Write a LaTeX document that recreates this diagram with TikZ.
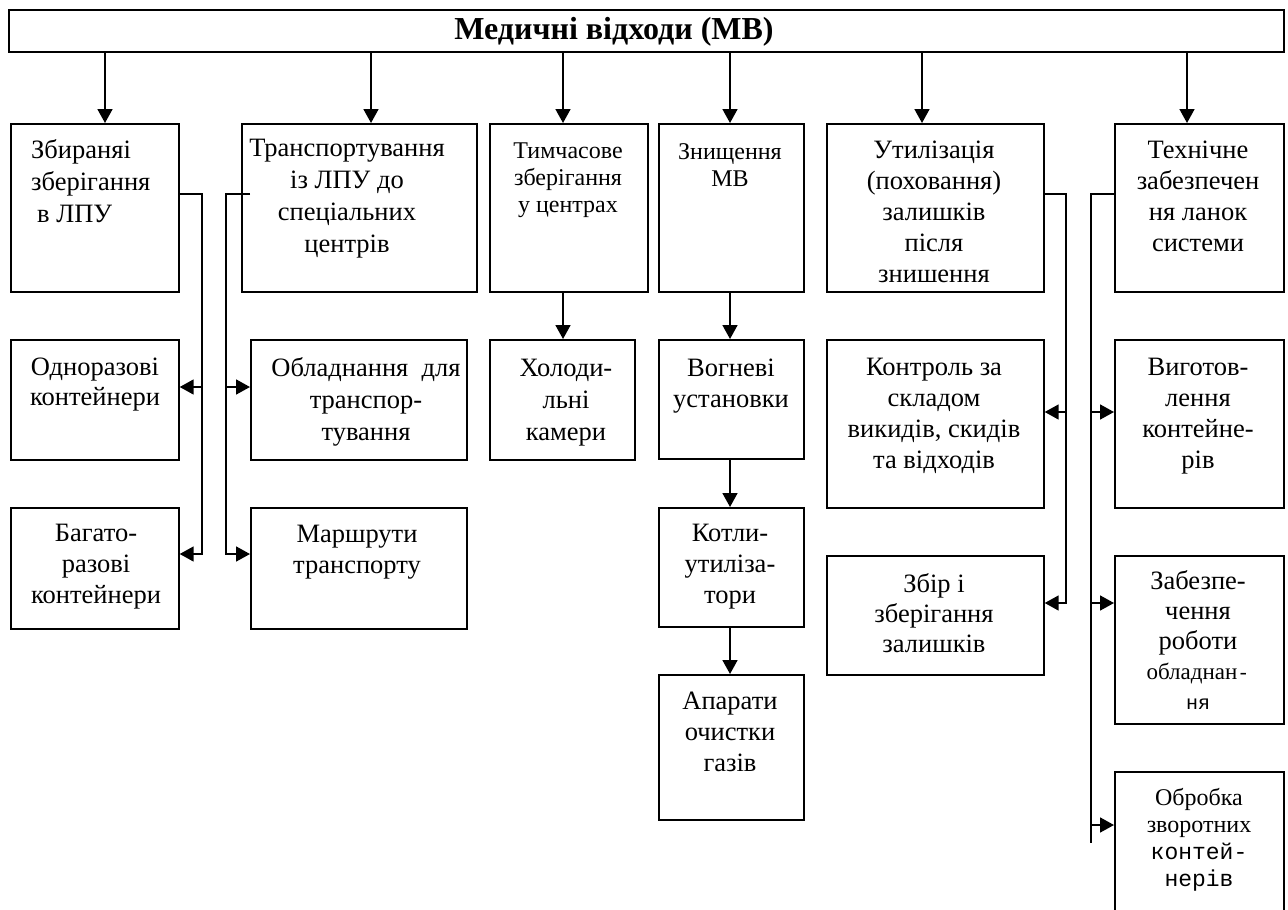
\documentclass[tikz,border=0pt]{standalone}
\usepackage{fontspec}
\setmainfont{Liberation Serif}
\setmonofont{Liberation Mono}
\usetikzlibrary{arrows.meta}
\newcommand\mybox[5]{\node[box, minimum width=#4pt, minimum height=#5pt] (#1) at (#2,#3) {};}
\begin{document}
\begin{tikzpicture}[x=1pt,y=-1pt,
  box/.style={draw, line width=1.7pt, inner sep=0pt, anchor=north west},
  ln/.style={line width=1.7pt, line join=miter},
  arr/.style={line width=1.7pt, line join=miter, -{Triangle[length=14pt,width=15pt]}},
  tx/.style={inner sep=0pt, align=center, anchor=north, execute at begin node=\strut},
  f26/.style={font=\fontsize{26.5}{#1}\selectfont},
  f24/.style={font=\fontsize{24}{#1}\selectfont},
]
\useasboundingbox (0,0) rectangle (1288,910);
% boxes
\mybox{title}{8}{9}{1275}{42}
\mybox{A}{10}{123}{168}{168}
\mybox{B}{241}{123}{235}{168}
\mybox{C}{489}{123}{158}{168}
\mybox{D}{658}{123}{145}{168}
\mybox{E}{826}{123}{217}{168}
\mybox{F}{1114}{123}{169}{168}
\mybox{A2}{10}{339}{168}{120}
\mybox{A3}{10}{507}{168}{121}
\mybox{B2}{250}{339}{216}{120}
\mybox{B3}{250}{507}{216}{121}
\mybox{C2}{489}{339}{145}{120}
\mybox{D2}{658}{339}{145}{119}
\mybox{D3}{658}{507}{145}{119}
\mybox{D4}{658}{674}{145}{145}
\mybox{E2}{826}{339}{217}{168}
\mybox{E3}{826}{555}{217}{119}
\mybox{F2}{1114}{339}{169}{168}
\mybox{F3}{1114}{555}{169}{168}
\mybox{F4}{1114}{771}{169}{160}
% title text
\node[inner sep=0pt, font=\fontsize{32}{36}\selectfont\bfseries] (ttl) at (614,32) {Медичні відходи (МВ)};
% texts
\node[tx, f26=32, anchor=north west, align=left] (tA) at (31,139) {Збираняі\\зберігання\\\hspace*{6pt}в ЛПУ};
\node[tx, f26=32] (tB) at (347,139) {Транспортування\\із ЛПУ до\\спеціальних\\центрів};
\node[tx, f24=27] (tC) at (568,143) {Тимчасове\\зберігання\\у центрах};
\node[tx, f24=27] (tD) at (730,143) {Знищення\\МВ};
\node[tx, f26=31] (tE) at (934,141) {Утилізація\\(поховання)\\залишків\\після\\знишення};
\node[tx, f26=31] (tF) at (1198,141) {Технічне\\забезпечен\\ня ланок\\системи};
\node[tx, f26=30] (tA2) at (95,358) {Одноразові\\контейнери};
\node[tx, f26=32] (tB2) at (366,357) {Обладнання~~для\\транспор-\\тування};
\node[tx, f26=32] (tC2) at (566,359) {Холоди-\\льні\\камери};
\node[tx, f26=31] (tD2) at (731,359) {Вогневі\\установки};
\node[tx, f26=31] (tE2) at (934,358) {Контроль за\\складом\\викидів, скидів\\та відходів};
\node[tx, f26=31] (tF2) at (1198,358) {Виготов-\\лення\\контейне-\\рів};
\node[tx, f26=31] (tA3) at (96,524) {Багато-\\разові\\контейнери};
\node[tx, f26=31] (tB3) at (357,525) {Маршрути\\транспорту};
\node[tx, f26=31] (tD3) at (730,524) {Котли-\\утиліза-\\тори};
\node[tx, f26=31] (tD4) at (730,692) {Апарати\\очистки\\газів};
\node[tx, f26=30] (tE3) at (934,573) {Збір і\\зберігання\\залишків};
\node[tx, f26=30] (tF3) at (1198,570) {Забезпе-\\чення\\роботи\\{\fontsize{23}{30}\selectfont обладнан}{\fontsize{20}{30}\ttfamily -}\\{\fontsize{20}{30}\ttfamily ня}};
\node[tx, f24=27] (tF4) at (1199,788) {Обробка\\зворотних\\{\fontsize{23}{27}\ttfamily контей-}\\{\fontsize{23}{27}\ttfamily нерів}};
% top arrows
\coordinate (xa) at (105,0);
\coordinate (xb) at (371,0);
\coordinate (xc) at (563,0);
\coordinate (xd) at (730,0);
\coordinate (xe) at (922,0);
\coordinate (xf) at (1187,0);
\draw[arr] (title.south -| xa) -- (A.north -| xa);
\draw[arr] (title.south -| xb) -- (B.north -| xb);
\draw[arr] (title.south -| xc) -- (C.north -| xc);
\draw[arr] (title.south -| xd) -- (D.north -| xd);
\draw[arr] (title.south -| xe) -- (E.north -| xe);
\draw[arr] (title.south -| xf) -- (F.north -| xf);
% vertical chains
\draw[arr] (C.south -| xc) -- (C2.north -| xc);
\draw[arr] (D.south -| xd) -- (D2.north -| xd);
\draw[arr] (D2.south -| xd) -- (D3.north -| xd);
\draw[arr] (D3.south -| xd) -- (D4.north -| xd);
% side buses
\coordinate (bA) at (202,194);
\coordinate (bB) at (226,194);
\coordinate (bE) at (1066,194);
\coordinate (bF) at (1091,194);
\coordinate (y1) at (0,387);
\coordinate (y2) at (0,554);
\coordinate (y3) at (0,412);
\coordinate (y4) at (0,603);
\coordinate (y5) at (0,825);
\coordinate (yend) at (0,843);
\draw[arr] (A.east |- bA) -- (bA) -- (bA |- y2) -- (A3.east |- y2);
\draw[arr] (bA |- y1) -- (A2.east |- y1);
\draw[arr] (B2.west |- bB) -- (bB) -- (bB |- y2) -- (B3.west |- y2);
\draw[arr] (bB |- y1) -- (B2.west |- y1);
\draw[arr] (E.east |- bE) -- (bE) -- (bE |- y4) -- (E3.east |- y4);
\draw[arr] (bE |- y3) -- (E2.east |- y3);
\draw[ln] (F.west |- bF) -- (bF) -- (bF |- yend);
\draw[arr] (bF |- y3) -- (F2.west |- y3);
\draw[arr] (bF |- y4) -- (F3.west |- y4);
\draw[arr] (bF |- y5) -- (F4.west |- y5);
\end{tikzpicture}
\end{document}
